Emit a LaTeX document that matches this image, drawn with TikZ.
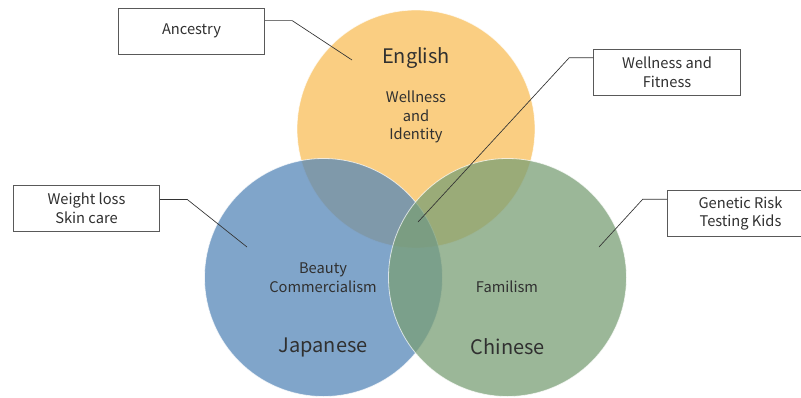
\documentclass[tikz,border=0pt]{standalone}
\usepackage{fontspec}
\setmainfont{Noto Sans CJK JP}
\usetikzlibrary{positioning}
\definecolor{engfill}{RGB}{248,190,88}
\definecolor{japfill}{RGB}{86,135,184}
\definecolor{chifill}{RGB}{122,159,118}
\definecolor{inktext}{RGB}{48,48,48}

\begin{document}
\begin{tikzpicture}[x=0.75pt, y=-0.75pt, font=\fontsize{11}{14}\selectfont,
    venn/.style={circle, minimum size=178.5pt, inner sep=0pt, fill opacity=0.75, draw=white, draw opacity=0.7, line width=0.6pt},
    callout/.style={draw=black!65, line width=0.6pt, fill=white, minimum width=110pt, minimum height=34.5pt, inner sep=0pt, align=center, text=inktext},
    leader/.style={draw=black!80, line width=0.5pt},
    title/.style={font=\fontsize{15}{18}\selectfont, text=inktext},
    theme/.style={align=center, text=inktext}]
\useasboundingbox (0,0) rectangle (801,397);

% Circles
\node[venn, fill=engfill] (eng) at (416,129) {};
\node[venn, fill=japfill] (jap) at (323.5,277.5) {};
\node[venn, fill=chifill] (chi) at (507.5,277.5) {};

% Circle texts
\node[title] (engname) at (416,58) {English};
\node[theme] (engtheme) at (416,117) {Wellness\\and\\Identity};
\node[theme] (japtheme) at (323,277.5) {Beauty\\Commercialism};
\node[theme] (chitheme) at (507,287) {Familism};
\node[title] (japname) at (323,347) {Japanese};
\node[title] (chiname) at (508,347) {Chinese};

% Callouts
\node[callout] (anc) at (191.5,31) {Ancestry};
\node[callout] (wel) at (667,72) {Wellness and\\Fitness};
\node[callout] (wgt) at (86.5,208.5) {Weight loss\\Skin care};
\node[callout] (gen) at (740.5,213.5) {Genetic Risk\\Testing Kids};

\coordinate (ancpt) at (352,60);
\coordinate (welpt) at (418,222);
\coordinate (wgtpt) at (247,247);
\coordinate (genpt) at (599,247);

\draw[leader] (anc.8) -- ++(27,0) -- (ancpt);
\draw[leader] (wel.169) -- ++(-24,0) -- (welpt);
\draw[leader] (wgt.7) -- ++(27,0) -- (wgtpt);
\draw[leader] (gen.169) -- ++(-24,0) -- (genpt);
\end{tikzpicture}
\end{document}
